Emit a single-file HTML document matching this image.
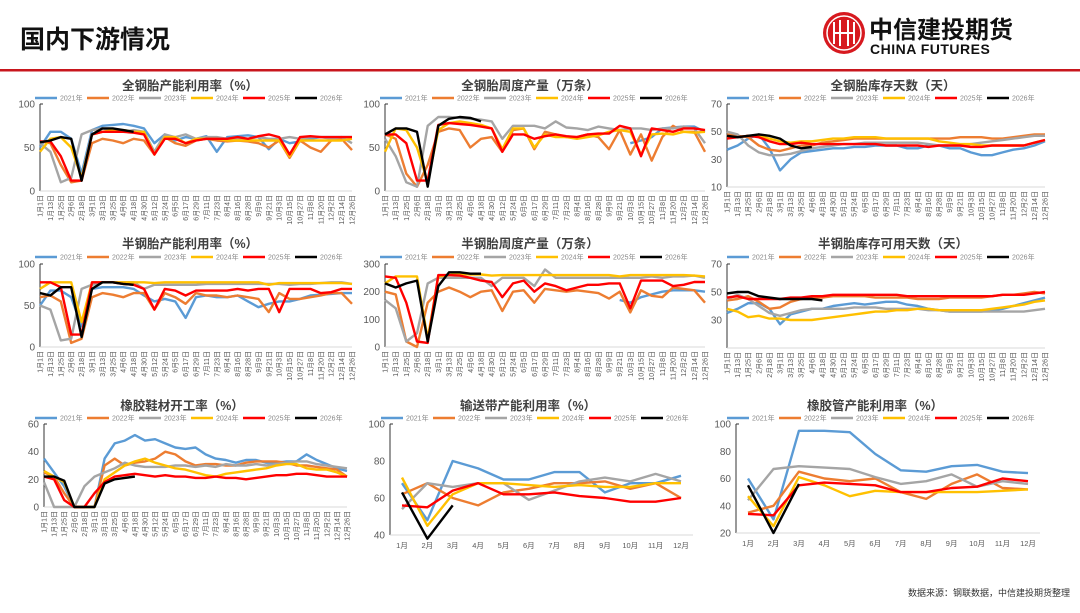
<!DOCTYPE html>
<html><head><meta charset="utf-8"><style>
body{margin:0;background:#fff;width:1080px;height:608px;overflow:hidden;font-family:"Liberation Sans","Noto Sans CJK SC",sans-serif}
</style></head><body>
<svg id="page" width="1080" height="608" xmlns="http://www.w3.org/2000/svg" font-family="Liberation Sans, Noto Sans CJK SC, sans-serif">
<text x="20" y="48" font-size="25" font-weight="bold" fill="#111">国内下游情况</text>
<g>
<circle cx="844" cy="33" r="21" fill="#d7191f"/>
<circle cx="844" cy="33" r="17" fill="none" stroke="#fff" stroke-width="1.5"/>
<path d="M834 22 v22 M840 20 v26 M848 20 v26 M854 22 v22 M834 33 h20" stroke="#fff" stroke-width="2" fill="none"/>
<text x="869" y="38" font-size="24" font-weight="bold" fill="#111" font-family="Noto Sans CJK SC, sans-serif">中信建投期货</text>
<text x="870" y="54" font-size="14" font-weight="bold" fill="#111" letter-spacing="0.5">CHINA FUTURES</text>
</g>
<rect x="0" y="69" width="1080" height="2.5" fill="#c8161d"/>
<text x="1070" y="596" font-size="9" fill="#333" text-anchor="end" font-family="Noto Sans CJK SC, sans-serif">数据来源：钢联数据，中信建投期货整理</text>
<g id="charts"></g>
</svg>
<script>
const years=["2021年","2022年","2023年","2024年","2025年","2026年"];
const colors=["#5B9BD5","#ED7D31","#A5A5A5","#FFC000","#FF0000","#000000"];
const weekLabels=["1月1日","1月13日","1月25日","2月6日","2月18日","3月1日","3月13日","3月25日","4月6日","4月18日","4月30日","5月12日","5月24日","6月5日","6月17日","6月29日","7月11日","7月23日","8月4日","8月16日","8月28日","9月9日","9月21日","10月3日","10月15日","10月27日","11月8日","11月20日","12月2日","12月14日","12月26日"];
const monthLabels=["1月","2月","3月","4月","5月","6月","7月","8月","9月","10月","11月","12月"];

const c1Ticks=[0,50,100];
const c1_2021=[50,68,68,60,20,70,75,76,77,75,72,55,65,58,62,60,63,45,62,63,64,62,48,60,55,57,60,62,62,62,62];
const c1_2022=[57,55,30,10,12,55,60,58,55,60,58,42,62,55,52,58,60,58,57,58,57,55,50,58,38,58,50,45,58,60,47];
const c1_2023=[55,45,10,15,65,70,72,70,68,70,68,45,65,62,65,60,62,62,60,60,60,62,60,60,62,60,62,62,60,62,55];
const c1_2024=[45,60,62,50,15,65,68,70,70,68,68,42,62,62,55,60,60,60,58,58,58,58,58,58,40,58,58,58,58,58,60];
const c1_2025=[57,57,40,12,12,65,68,68,68,67,65,42,60,60,55,58,60,60,60,62,60,63,65,62,42,62,63,62,62,62,62];
const c1_2026=[56,58,62,60,12,65,72,72,70,68];

const c2Ticks=[0,50,100];
const c2_2021=[null,null,null,null,null,null,null,null,null,null,null,null,null,null,null,null,null,null,null,null,null,null,null,55,58,62,72,73,74,74,68];
const c2_2022=[65,60,20,5,30,68,72,70,50,60,62,45,70,72,48,68,65,62,62,65,62,48,70,42,65,35,62,75,68,68,45];
const c2_2023=[60,40,10,5,75,85,85,84,83,82,80,60,75,75,75,72,80,73,72,70,74,72,70,72,72,70,72,72,74,72,55];
const c2_2024=[45,72,70,50,10,70,78,80,78,76,72,48,72,72,50,65,62,62,60,62,64,68,70,68,42,65,66,65,68,67,68];
const c2_2025=[65,65,55,12,12,76,78,77,76,74,72,45,65,65,60,63,65,63,62,65,66,66,75,72,40,72,70,68,72,72,70];
const c2_2026=[65,72,72,68,5,75,83,85,84,80];

const c3Ticks=[10,30,50,70];
const c3_2021=[37,40,45,48,38,22,30,35,36,37,38,38,39,39,40,40,40,38,38,40,40,38,38,35,33,33,35,37,38,40,43];
const c3_2022=[48,47,46,40,37,36,38,40,40,42,43,44,45,45,45,45,45,45,45,45,45,45,46,46,46,45,45,46,47,48,48];
const c3_2023=[50,48,40,35,33,33,34,36,38,39,40,41,41,42,42,42,42,42,42,41,40,40,40,41,42,43,44,45,46,47,47];
const c3_2024=[46,46,47,47,45,43,42,43,43,44,45,45,46,46,46,45,45,45,45,45,43,42,41,41,40,40,40,40,40,42,44];
const c3_2025=[45,46,47,46,43,41,41,42,41,41,41,41,41,41,41,40,40,40,40,39,40,40,40,39,39,40,40,40,40,42,44];
const c3_2026=[47,46,47,48,47,45,40,38,39];

const c4Ticks=[0,50,100];
const c4_2021=[50,68,68,60,25,70,72,72,72,70,62,55,58,55,35,60,62,60,60,62,55,48,52,55,55,58,62,63,64,65,65];
const c4_2022=[60,62,55,5,10,60,65,63,60,65,65,45,65,60,52,65,62,62,60,62,60,58,42,65,58,58,60,62,65,65,52];
const c4_2023=[50,45,8,10,70,75,78,78,78,78,70,75,75,75,75,75,76,76,76,76,76,76,76,76,75,76,76,77,78,78,76];
const c4_2024=[70,78,78,78,30,78,78,78,78,78,78,77,78,78,78,78,78,78,78,78,78,78,75,77,77,77,77,77,77,77,76];
const c4_2025=[78,78,72,15,15,78,78,78,76,75,70,45,70,68,62,68,68,68,68,70,68,70,70,42,70,70,70,65,66,70,70];
const c4_2026=[65,62,72,72,12,70,78,78,76,75];

const c5Ticks=[0,100,200,300];
const c5_2021=[null,null,null,null,null,null,null,null,null,null,null,null,null,null,null,null,null,null,null,null,null,null,170,160,180,190,200,205,205,205,200];
const c5_2022=[200,190,20,0,160,200,215,200,180,200,205,130,200,205,160,210,205,200,205,200,195,175,200,125,205,185,180,215,210,205,160];
const c5_2023=[170,140,20,50,230,250,250,250,250,250,220,250,250,250,220,280,250,250,250,250,250,250,250,250,250,255,250,255,255,258,250];
const c5_2024=[230,255,255,255,30,255,260,265,262,262,258,260,260,260,260,260,260,260,260,260,260,260,255,260,260,260,260,260,260,258,255];
const c5_2025=[255,250,160,20,15,260,260,258,250,240,235,180,230,240,200,230,220,205,215,225,225,230,230,140,240,240,240,220,225,235,235];
const c5_2026=[230,215,230,240,20,220,270,270,265,265];

const c6Ticks=[10,30,50,70];
const c6_2021=[35,38,42,42,38,27,34,36,38,38,40,41,42,41,42,43,43,41,40,38,37,36,36,36,36,37,38,40,42,44,46];
const c6_2022=[44,45,47,43,38,39,43,45,46,46,47,47,47,47,46,46,46,46,45,45,45,46,46,46,46,47,48,48,49,50,49];
const c6_2023=[45,48,45,40,35,33,35,37,38,38,38,38,39,39,39,38,38,38,38,37,37,36,36,36,36,36,36,36,36,37,38];
const c6_2024=[38,36,32,33,31,31,30,30,30,31,32,33,34,35,36,36,37,37,38,38,37,37,37,37,37,38,39,40,41,43,44];
const c6_2025=[46,47,45,45,45,45,46,46,47,47,48,48,48,48,48,48,48,47,47,47,47,47,47,47,47,47,48,48,48,49,50];
const c6_2026=[49,50,50,47,46,45,45,45,45,44];

const c7Ticks=[0,20,40,60];
const c7_2021=[35,25,15,0,0,0,35,46,48,52,48,49,46,43,42,43,38,35,34,32,34,34,32,32,33,33,38,34,31,28,26];
const c7_2022=[25,22,10,0,0,0,30,35,30,32,33,35,40,38,33,30,31,31,30,30,32,33,33,33,32,30,30,29,28,27,22];
const c7_2023=[18,0,0,0,15,22,25,28,32,30,29,29,29,30,30,29,30,29,31,30,30,31,30,31,32,33,33,31,30,29,28];
const c7_2024=[26,22,18,0,0,0,20,25,30,33,35,32,30,28,27,25,23,22,24,25,26,27,28,30,31,31,28,27,27,25,22];
const c7_2025=[22,20,5,0,0,10,18,22,23,24,23,22,23,22,22,21,21,22,21,21,20,21,22,23,23,24,24,23,22,22,22];
const c7_2026=[22,22,19,0,0,0,17,20,21,22];

const c8Ticks=[40,60,80,100];
const c8_2021=[68,48,80,76,70,70,74,74,63,68,68,72];
const c8_2022=[62,68,60,56,63,65,68,68,69,65,68,60];
const c8_2023=[54,68,66,68,68,59,64,69,71,69,73,69];
const c8_2024=[71,45,62,68,68,67,66,67,66,66,68,68];
const c8_2025=[56,55,64,68,62,62,63,61,60,58,58,60];
const c8_2026=[63,38,56];

const c9Ticks=[20,40,60,80,100];
const c9_2021=[60,30,95,95,94,78,66,65,69,70,65,64];
const c9_2022=[35,40,65,60,58,60,50,45,56,63,53,52];
const c9_2023=[44,67,69,68,67,61,56,58,63,54,58,56];
const c9_2024=[47,25,61,55,47,51,50,50,50,50,51,52];
const c9_2025=[34,33,55,57,56,55,50,50,53,54,60,58];
const c9_2026=[55,20,56];

const NS="http://www.w3.org/2000/svg";
const root=document.getElementById("charts");
function mk(tag,attrs,parent){const e=document.createElementNS(NS,tag);for(const k in attrs)e.setAttribute(k,attrs[k]);(parent||root).appendChild(e);return e;}

function drawChart(cfg,series,ticks,labels){
  const g=mk("g",{});
  
  
  const ymin=ticks[0],ymax=ticks[ticks.length-1];
  const Y=v=>cfg.y1-(v-ymin)/(ymax-ymin)*(cfg.y1-cfg.y0);
  const monthly=labels.length===12;
  const X=i=>monthly?cfg.x0+cfg.pad+i*(cfg.x1-cfg.x0-2*cfg.pad)/(labels.length-1):cfg.x0+i*(cfg.x1-cfg.x0)/(labels.length-1);
  const t=mk("text",{x:cfg.tx,y:cfg.ty,"font-size":12.5,"font-weight":"bold",fill:"#404040","text-anchor":"middle"},g);
  t.textContent=cfg.title;
  
  
  for(let k=0;k<6;k++){
    const lx=cfg.lx+k*cfg.lstep;
    const le=mk("g",{},g);
    
    
    mk("line",{x1:lx,x2:lx+22,y1:cfg.ly,y2:cfg.ly,stroke:colors[k],"stroke-width":2.5},le);
    const lt=mk("text",{x:lx+25,y:cfg.ly+2.5,"font-size":7,fill:"#888"},le);
    lt.textContent=years[k];
  }
  ticks.forEach(v=>{
    if(cfg.hide && cfg.hide.indexOf(v)>=0) return;
    const tt=mk("text",{x:cfg.x0-5,y:Y(v)+3.5,"font-size":10,fill:"#595959","text-anchor":"end"},g);
    tt.textContent=v;
    
    
  });
  const ax=mk("line",{x1:cfg.x0,x2:cfg.x0,y1:cfg.y0,y2:cfg.y1,stroke:"#333","stroke-width":1},g);
  
  
  mk("line",{x1:cfg.x0,x2:cfg.x0+3,y1:cfg.y0,y2:cfg.y0,stroke:"#333","stroke-width":1},g);
  const bx=mk("line",{x1:cfg.x0,x2:cfg.x1,y1:cfg.y1,y2:cfg.y1,stroke:"#d9d9d9","stroke-width":1},g);
  
  
  labels.forEach((lab,i)=>{
    let e;
    if(monthly){e=mk("text",{x:X(i),y:cfg.y1+13,"font-size":7.5,fill:"#595959","text-anchor":"middle"},g);}
    else{const x=X(i)+2.5,y=cfg.y1+4;e=mk("text",{x:x,y:y,"font-size":7,fill:"#595959","text-anchor":"end",transform:"rotate(-90 "+x+" "+y+")"},g);}
    e.textContent=lab;
    
    
  });
  series.forEach((arr,k)=>{
    let d="",pen=false;
    arr.forEach((v,i)=>{if(v===null){pen=false;return;}d+=(pen?"L":"M")+X(i).toFixed(1)+" "+Y(v).toFixed(1);pen=true;});
    const p=mk("path",{d:d,fill:"none",stroke:colors[k],"stroke-width":2.4,"stroke-linejoin":"round"},g);
    
    
  });
}

drawChart({name:"chart-allsteel-utilization",title:"全钢胎产能利用率（%）",tx:190,ty:90,lx:35,lstep:52,ly:98,x0:40,x1:352,y0:104,y1:191},[c1_2021,c1_2022,c1_2023,c1_2024,c1_2025,c1_2026],c1Ticks,weekLabels);
drawChart({name:"chart-allsteel-output",title:"全钢胎周度产量（万条）",tx:530,ty:90,lx:380,lstep:52,ly:98,x0:385,x1:705,y0:104,y1:191},[c2_2021,c2_2022,c2_2023,c2_2024,c2_2025,c2_2026],c2Ticks,weekLabels);
drawChart({name:"chart-allsteel-inventory-days",title:"全钢胎库存天数（天）",tx:893,ty:90,lx:727,lstep:52,ly:98,x0:727,x1:1045,y0:104,y1:187},[c3_2021,c3_2022,c3_2023,c3_2024,c3_2025,c3_2026],c3Ticks,weekLabels);
drawChart({name:"chart-semisteel-utilization",title:"半钢胎产能利用率（%）",tx:190,ty:248,lx:35,lstep:52,ly:257,x0:40,x1:352,y0:264,y1:347},[c4_2021,c4_2022,c4_2023,c4_2024,c4_2025,c4_2026],c4Ticks,weekLabels);
drawChart({name:"chart-semisteel-output",title:"半钢胎周度产量（万条）",tx:530,ty:248,lx:380,lstep:52,ly:257,x0:385,x1:705,y0:264,y1:347},[c5_2021,c5_2022,c5_2023,c5_2024,c5_2025,c5_2026],c5Ticks,weekLabels);
drawChart({name:"chart-semisteel-inventory-days",title:"半钢胎库存可用天数（天）",tx:893,ty:248,lx:727,lstep:52,ly:257,x0:727,x1:1045,y0:264,y1:348,hide:[10]},[c6_2021,c6_2022,c6_2023,c6_2024,c6_2025,c6_2026],c6Ticks,weekLabels);
drawChart({name:"chart-rubber-shoe-utilization",title:"橡胶鞋材开工率（%）",tx:182,ty:410,lx:35,lstep:52,ly:418,x0:44,x1:347,y0:424,y1:507},[c7_2021,c7_2022,c7_2023,c7_2024,c7_2025,c7_2026],c7Ticks,weekLabels);
drawChart({name:"chart-conveyor-belt-utilization",title:"输送带产能利用率（%）",tx:528,ty:410,lx:381,lstep:52,ly:418,x0:390,x1:693,y0:424,y1:535,pad:12},[c8_2021,c8_2022,c8_2023,c8_2024,c8_2025,c8_2026],c8Ticks,monthLabels);
drawChart({name:"chart-rubber-hose-utilization",title:"橡胶管产能利用率（%）",tx:875,ty:410,lx:727,lstep:52,ly:418,x0:736,x1:1040,y0:424,y1:533,pad:12},[c9_2021,c9_2022,c9_2023,c9_2024,c9_2025,c9_2026],c9Ticks,monthLabels);
</script>
</body></html>
